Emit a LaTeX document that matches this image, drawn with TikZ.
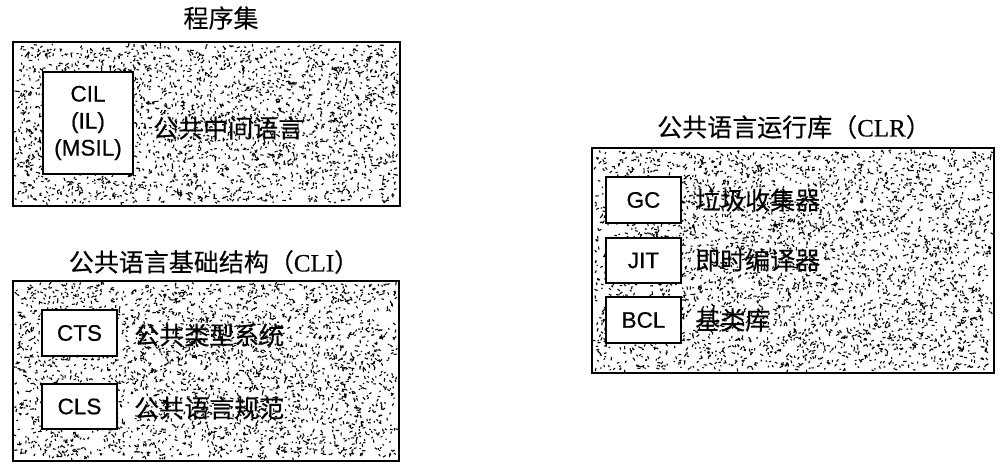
\documentclass[tikz,border=0pt]{standalone}
\usepackage{fontspec}
\setmainfont{Liberation Sans}[FakeBold=0.5]
\newfontfamily\cjk{Noto Sans CJK SC}[FakeBold=0.3]
\newfontfamily\serifen{Liberation Serif}[FakeBold=0.3]
\tikzset{
  outerbox/.style={draw=black, line width=2pt, fill=white, inner sep=0pt},
  innerbox/.style={draw=black, line width=1.8pt, fill=white, inner sep=0pt, font=\fontsize{22.5}{27}\selectfont, align=center},
  speck/.style={draw=black, line width=1.1pt},
  label/.style={anchor=west, inner sep=0pt, font=\cjk\fontsize{25}{25}\selectfont},
  title/.style={inner sep=0pt, font=\cjk\fontsize{25}{25}\selectfont}
}
\newcommand{\speckfill}[5]{%
  \path[speck] \foreach \k in {1,...,#5}{ ({#1+rnd*(#3-#1)},{#2+rnd*(#4-#2)}) -- ++({rnd*360}:{1.2+rnd*2.4}) };%
}
\begin{document}
\begin{tikzpicture}[x=1pt,y=-1pt]
\pgfmathsetseed{7}
\useasboundingbox (0,0) rectangle (1002,470);
% --- Assembly ---
\node[title] (t1) at (221,18) {程序集};
\node[outerbox, minimum width=387pt, minimum height=164pt] (asm) at (206.5,124) {};
\speckfill{16}{45}{397}{203}{2600}
\node[innerbox, minimum width=90pt, minimum height=102pt] (cil) at (88,123) {CIL\\(IL)\\(MSIL)};
\node[label] (cilt) at (153,128) {公共中间语言};
% --- CLI ---
\node[title] (t2) at (214,262) {公共语言基础结构（{\serifen CLI}）};
\node[outerbox, minimum width=386pt, minimum height=180pt] (cli) at (206,371) {};
\speckfill{16}{284}{396}{458}{2900}
\node[innerbox, minimum width=75pt, minimum height=46pt] (cts) at (79.5,333) {CTS};
\node[label] (ctst) at (134,335) {公共类型系统};
\node[innerbox, minimum width=75pt, minimum height=45pt] (cls) at (79.5,406.5) {CLS};
\node[label] (clst) at (134,408) {公共语言规范};
% --- CLR ---
\node[title] (t3) at (794,127) {公共语言运行库（{\serifen CLR}）};
\node[outerbox, minimum width=402pt, minimum height=225pt] (clr) at (793,260.5) {};
\speckfill{595}{151}{991}{370}{3700}
\node[innerbox, minimum width=75pt, minimum height=46pt] (gc) at (643.5,200) {GC};
\node[label] (gct) at (695,200) {垃圾收集器};
\node[innerbox, minimum width=75pt, minimum height=45pt] (jit) at (643.5,260.5) {JIT};
\node[label] (jitt) at (695,260) {即时编译器};
\node[innerbox, minimum width=75pt, minimum height=46pt] (bcl) at (643.5,320) {BCL};
\node[label] (bclt) at (695,320) {基类库};
\end{tikzpicture}
\end{document}
